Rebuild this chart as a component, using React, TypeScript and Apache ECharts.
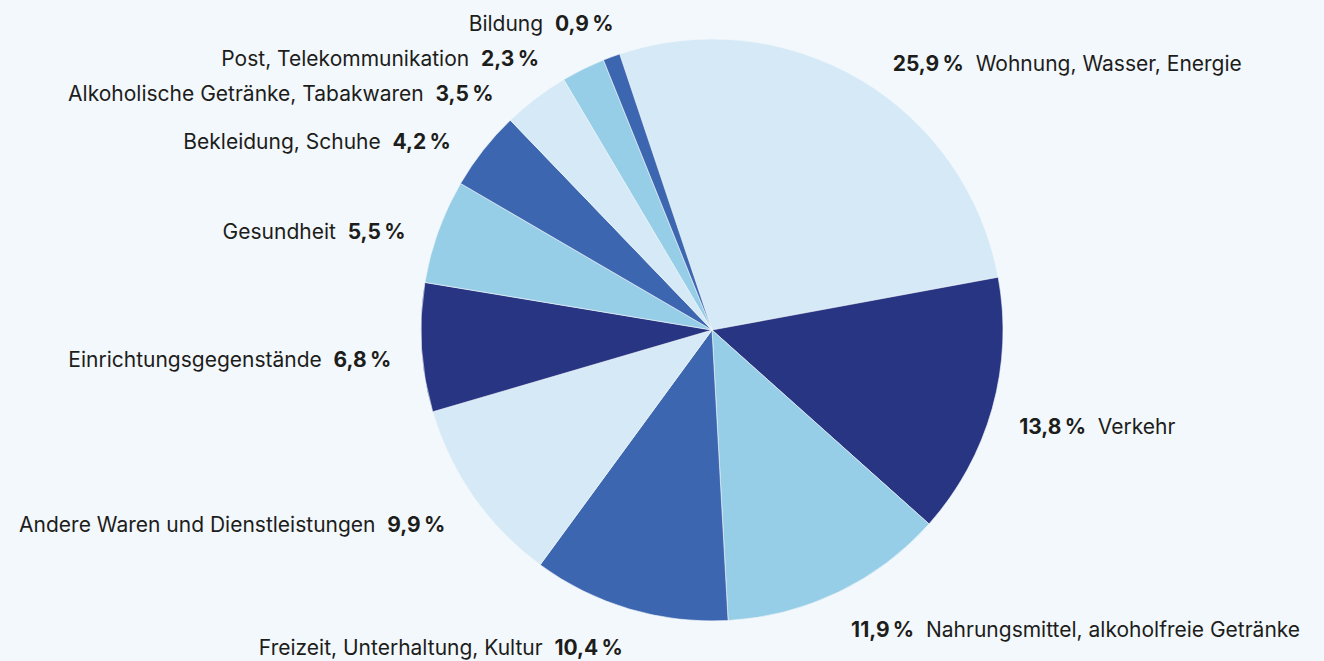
import React, { useEffect, useRef } from "react";
import * as echarts from "echarts";

const categories = [
  "Wohnung, Wasser, Energie",
  "Verkehr",
  "Nahrungsmittel, alkoholfreie Getränke",
  "Freizeit, Unterhaltung, Kultur",
  "Andere Waren und Dienstleistungen",
  "Einrichtungsgegenstände",
  "Gesundheit",
  "Bekleidung, Schuhe",
  "Alkoholische Getränke, Tabakwaren",
  "Post, Telekommunikation",
  "Bildung",
];
const values = [25.9, 13.8, 11.9, 10.4, 9.9, 6.8, 5.5, 4.2, 3.5, 2.3, 0.9];
const LIGHT = "#d5eaf6";
const NAVY = "#283583";
const SKY = "#96cde7";
const MID = "#3c66b0";
const sliceColors = [LIGHT, NAVY, SKY, MID, LIGHT, NAVY, SKY, MID, LIGHT, SKY, MID];

const CX = 712;
const CY = 330;
const RADIUS = 291;
const LABEL_R = 321;
const LABEL_RX_TOP = 322;
const LABEL_RX_BOTTOM = 330;
const Y_SHIFT = 10;
const START = 108.5; // echarts degrees (counter-clockwise from 3 o'clock)
const GAP = 35;

const fmt = (v: number) => v.toFixed(1).replace(".", ",") + "\u202f%";

function computeLabelPositions() {
  const total = values.reduce((a, b) => a + b, 0);
  let acc = 90 - START; // clockwise from top
  const items = values.map((v, i) => {
    const span = (v / total) * 360;
    const mid = acc + span / 2;
    acc += span;
    const rad = (mid * Math.PI) / 180;
    const right = Math.sin(rad) >= 0;
    const y = CY - LABEL_R * Math.cos(rad) + Y_SHIFT;
    return { i, right, y, target: y };
  });
  [true, false].forEach((side) => {
    const list = items.filter((d) => d.right === side).sort((a, b) => a.target - b.target);
    const groups = list.map((d) => ({ members: [d], center: d.target }));
    let changed = true;
    while (changed) {
      changed = false;
      for (let k = 0; k < groups.length - 1; k++) {
        const a = groups[k];
        const b = groups[k + 1];
        const aBottom = a.center + ((a.members.length - 1) * GAP) / 2;
        const bTop = b.center - ((b.members.length - 1) * GAP) / 2;
        if (bTop - aBottom < GAP) {
          const members = a.members.concat(b.members);
          const mean = members.reduce((s, m) => s + m.target, 0) / members.length;
          groups.splice(k, 2, { members, center: mean });
          changed = true;
          break;
        }
      }
    }
    groups.forEach((g) => {
      const n = g.members.length;
      g.members.forEach((m, j) => {
        m.y = g.center + (j - (n - 1) / 2) * GAP;
      });
    });
  });
  const out: { x: number; y: number; align: string }[] = [];
  items.forEach((d) => {
    const dy = d.y - CY;
    const rx = dy > 100 ? LABEL_RX_BOTTOM : LABEL_RX_TOP;
    const dx = Math.sqrt(Math.max(0, rx * rx - dy * dy));
    out[d.i] = { x: d.right ? CX + dx : CX - dx, y: d.y, align: d.right ? "left" : "right" };
  });
  return out;
}

export default function App() {
  const ref = useRef<HTMLDivElement>(null);
  useEffect(() => {
    document.body.style.margin = "0";
    const chart = echarts.init(ref.current!, null, { renderer: "svg" });
    const pos = computeLabelPositions();
    const data = categories.map((name, i) => ({
      name,
      value: values[i],
      itemStyle: { color: sliceColors[i] },
      label: {
        formatter: pos[i].align === "left"
          ? `{b|${fmt(values[i])}}  {n|${name}}`
          : `{n|${name}}  {b|${fmt(values[i])}}`,
      },
    }));
    chart.setOption({
      animation: false,
      backgroundColor: "#f3f8fc",
      series: [
        {
          type: "pie",
          center: [CX, CY],
          radius: RADIUS,
          startAngle: START,
          clockwise: true,
          avoidLabelOverlap: false,
          itemStyle: { borderColor: "#f3f8fc", borderWidth: 0.6 },
          labelLine: { show: false },
          label: {
            show: true,
            position: "outside",
            fontFamily: "Inter",
            fontSize: 21,
            color: "#1d1d1b",
            rich: {
              b: { fontFamily: "Inter", fontSize: 21, fontWeight: 700, color: "#1d1d1b" },
              n: { fontFamily: "Inter", fontSize: 21, fontWeight: 400, color: "#1d1d1b" },
            },
          },
          labelLayout: (params: any) => {
            const p = pos[params.dataIndex];
            return { x: p.x, y: p.y, align: p.align, verticalAlign: "middle" };
          },
          emphasis: { disabled: true },
          data,
        },
      ],
    });
    return () => chart.dispose();
  }, []);
  return <div ref={ref} style={{ width: 1324, height: 661 }} />;
}
